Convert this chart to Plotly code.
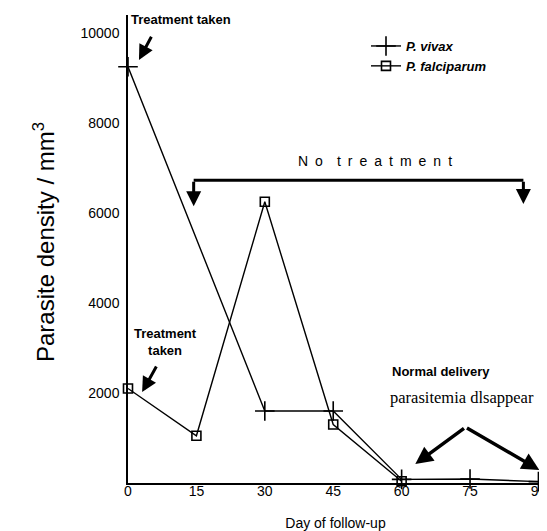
import plotly.graph_objects as go

# ---- data ----
vivax_days = [0, 30, 45, 60, 75, 90]
vivax_density = [9250, 1600, 1600, 80, 90, 30]
falc_days = [0, 15, 30, 45, 60]
falc_density = [2100, 1050, 6250, 1300, 40]
x_ticks = [0, 15, 30, 45, 60, 75, 90]
y_ticks = [2000, 4000, 6000, 8000, 10000]

FONT = "Liberation Sans, Arial, sans-serif"

fig = go.Figure()
fig.add_trace(go.Scatter(
    x=vivax_days, y=vivax_density, mode="lines+markers", name="<b><i>P. vivax</i></b>",
    line=dict(color="black", width=1.4),
    marker=dict(symbol="cross-thin-open", size=14, color="black", line=dict(width=1.6, color="black")),
    cliponaxis=False,
))
fig.add_trace(go.Scatter(
    x=falc_days, y=falc_density, mode="lines+markers", name="<b><i>P. falciparum</i></b>",
    line=dict(color="black", width=1.4),
    marker=dict(symbol="square-open", size=9, color="black", line=dict(width=1.6, color="black")),
    cliponaxis=False,
))

ann = []
def arrow(x, y, ax, ay, w=3):
    ann.append(dict(x=x, y=y, ax=ax, ay=ay, xref="x", yref="y", axref="x", ayref="y",
                    text="", showarrow=True, arrowhead=2, arrowsize=1, arrowwidth=w,
                    arrowcolor="black", standoff=0, startstandoff=0))

# Treatment taken (top)
ann.append(dict(x=0.3, y=10300, xref="x", yref="y", text="<b>Treatment taken</b>", showarrow=False,
                xanchor="left", yanchor="middle", font=dict(family=FONT, size=13, color="black")))
arrow(2.4, 9400, 5.3, 9950)
# Treatment taken (falciparum)
ann.append(dict(x=8.3, y=3130, xref="x", yref="y", text="<b>Treatment</b><br><b>taken</b>", showarrow=False,
                xanchor="center", yanchor="middle", font=dict(family=FONT, size=13, color="black")))
arrow(3.1, 2020, 6.4, 2620)
# No treatment bracket
sp = "\u2002"
nt = sp.join("No") + sp * 2 + sp.join("treatment")
ann.append(dict(x=54.2, y=7160, xref="x", yref="y", text=nt, showarrow=False,
                xanchor="center", yanchor="middle", font=dict(family=FONT, size=14, color="black")))
arrow(14.4, 6150, 14.4, 6730, w=3)
arrow(86.7, 6200, 86.7, 6730, w=3)
# Normal delivery
ann.append(dict(x=57.5, y=2470, xref="x", yref="y", text="<b>Normal delivery</b>", showarrow=False,
                xanchor="left", yanchor="middle", font=dict(family=FONT, size=13, color="black")))
ann.append(dict(x=57.1, y=1910, xref="x", yref="y", text="parasitemia dlsappear", showarrow=False,
                xanchor="left", yanchor="middle", font=dict(family="Liberation Serif, Times New Roman, serif", size=16.5, color="black")))
arrow(63.0, 420, 74.0, 1240, w=3.5)
arrow(90.2, 290, 74.0, 1240, w=3.5)
# y-axis title
ann.append(dict(x=(44 - 128) / 415, y=(483 - 242) / 468, xref="paper", yref="paper",
                text="Parasite density / mm<sup>3</sup>", textangle=-90, showarrow=False,
                xanchor="center", yanchor="middle", font=dict(family=FONT, size=24, color="black")))

fig.add_shape(type="line", x0=14.4, x1=86.7, y0=6730, y1=6730, xref="x", yref="y",
              line=dict(color="black", width=3))

fig.update_layout(
    width=539, height=523,
    margin=dict(l=120, r=4, t=7, b=48, autoexpand=False),
    paper_bgcolor="white", plot_bgcolor="white",
    showlegend=True,
    legend=dict(x=(366 - 128) / 415, y=1 - (31 - 15) / 468, xanchor="left", yanchor="top",
                bgcolor="rgba(0,0,0,0)", font=dict(family=FONT, size=13, color="black"),
                tracegroupgap=4),
    annotations=ann,
    xaxis=dict(range=[0, 91], tickvals=x_ticks, ticktext=[str(v) for v in x_ticks],
               showgrid=False, zeroline=False, showline=True, linecolor="black", linewidth=1.5,
               ticks="", ticklabelstandoff=-6, tickfont=dict(family=FONT, size=14, color="black"),
               title=dict(text="Day of follow-up", font=dict(family=FONT, size=14, color="black"), standoff=21),
               automargin=False),
    yaxis=dict(range=[0, 10400], tickvals=y_ticks, ticktext=[str(v) for v in y_ticks],
               showgrid=False, zeroline=False, showline=True, linecolor="black", linewidth=1.5,
               ticks="", ticklabelstandoff=4, tickfont=dict(family=FONT, size=14, color="black"),
               automargin=False),
)
fig.write_html("out.html")
